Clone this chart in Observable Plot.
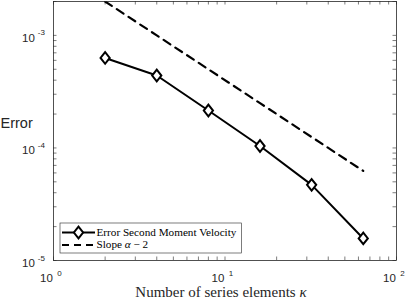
<!DOCTYPE html>
<html><head><meta charset="utf-8">
<script src="https://cdn.jsdelivr.net/npm/d3@7"></script>
<script src="https://cdn.jsdelivr.net/npm/@observablehq/plot@0.6"></script>
<style>html,body{margin:0;padding:0;background:#fff} svg{display:block}</style>
</head><body><div id="chart"></div>
<script>
// ---- data ----
const kappa = [2, 4, 8, 16, 32, 64];
const errorSecondMoment = [6.3e-4, 4.4e-4, 2.15e-4, 1.04e-4, 4.7e-5, 1.57e-5];
const slopeRef = [2.0e-3, 1.0e-3, 5.0e-4, 2.5e-4, 1.25e-4, 6.25e-5];
const xMajorTicks = [1, 10, 100];
const xTickExponents = ["0", "1", "2"];
const xMinorTicks = [2, 3, 4, 5, 6, 7, 8, 9, 20, 30, 40, 50, 60, 70, 80, 90];
const yMajorTicks = [1e-5, 1e-4, 1e-3];
const yTickExponents = ["-5", "-4", "-3"];
const yMinorTicks = [2e-5, 3e-5, 4e-5, 5e-5, 6e-5, 7e-5, 8e-5, 9e-5,
                     2e-4, 3e-4, 4e-4, 5e-4, 6e-4, 7e-4, 8e-4, 9e-4, 2e-3];
const seriesNames = ["Error Second Moment Velocity", "Slope "];
const xLabel = "Number of series elements ";
const yLabel = "Error";

// ---- layout ----
const W = 407, H = 299, mL = 53, mR = 11, mT = 1, mB = 39;
const plotW = W - mL - mR, plotH = H - mT - mB;
const tl = 3.5;
const ink = "#262626";
const sans = "'Liberation Sans', Arial, Helvetica, sans-serif";
const serif = "'Liberation Serif', 'Times New Roman', serif";

const data = kappa.map((k, i) => ({k, err: errorSecondMoment[i], slope: slopeRef[i]}));
const allX = [...xMajorTicks, ...xMinorTicks];
const allY = [...yMajorTicks, ...yMinorTicks];

const diamond = {
  draw(ctx, size) {
    const k = Math.sqrt(size / Math.PI);
    ctx.moveTo(0, -1.26 * k); ctx.lineTo(k, 0); ctx.lineTo(0, 1.26 * k); ctx.lineTo(-k, 0); ctx.closePath();
  }
};

const chart = Plot.plot({
  width: W, height: H,
  marginLeft: mL, marginRight: mR, marginTop: mT, marginBottom: mB,
  x: {type: "log", domain: [1, 100], axis: null},
  y: {type: "log", domain: [1e-5, 2e-3], axis: null},
  style: {background: "#fff", fontFamily: sans, overflow: "visible"},
  marks: [
    Plot.tickX(allX, {x: d => d, insetTop: plotH - tl, stroke: ink, strokeWidth: 0.6}),
    Plot.tickX(allX, {x: d => d, insetBottom: plotH - tl, stroke: ink, strokeWidth: 0.6}),
    Plot.tickY(allY, {y: d => d, insetRight: plotW - tl, stroke: ink, strokeWidth: 0.6}),
    Plot.tickY(allY, {y: d => d, insetLeft: plotW - tl, stroke: ink, strokeWidth: 0.6}),
    Plot.line(data, {x: "k", y: "slope", stroke: "black", strokeWidth: 2.2, strokeDasharray: "8,6", clip: true}),
    Plot.line(data, {x: "k", y: "err", stroke: "black", strokeWidth: 2}),
    Plot.dot(data, {x: "k", y: "err", symbol: diamond, r: 4.6, stroke: "black", strokeWidth: 2, fill: "white"}),
    Plot.frame({stroke: ink, strokeWidth: 0.8}),
    Plot.text(xMajorTicks, {x: d => d, text: () => "10", frameAnchor: "bottom", lineAnchor: "bottom",
      textAnchor: "end", dx: -0.7, dy: 21, fontSize: 11.5, fill: ink}),
    Plot.text(xMajorTicks, {x: d => d, text: (d, i) => xTickExponents[i], frameAnchor: "bottom", lineAnchor: "bottom",
      textAnchor: "start", dx: 3.7, dy: 15, fontSize: 8, fill: ink}),
    Plot.text(yMajorTicks, {y: d => d, text: () => "10", frameAnchor: "left", lineAnchor: "bottom",
      textAnchor: "end", dx: -18.7, dy: 6.4, fontSize: 11.5, fill: ink}),
    Plot.text(yMajorTicks, {y: d => d, text: (d, i) => yTickExponents[i], frameAnchor: "left", lineAnchor: "bottom",
      textAnchor: "start", dx: -15.7, dy: 0, fontSize: 8, fill: ink})
  ]
});

const svg = d3.select(chart);
// axis labels
svg.append("text").attr("x", 0.5).attr("y", 128.3).attr("text-anchor", "start").attr("font-family", sans).attr("font-size", 14.5)
  .attr("fill", ink).text(yLabel);
const xl = svg.append("text").attr("x", 221).attr("y", 296.5).attr("text-anchor", "middle")
  .attr("font-family", serif).attr("font-size", 15).attr("fill", ink);
xl.append("tspan").text(xLabel);
xl.append("tspan").attr("font-style", "italic").text("κ");

// legend
const lg = svg.append("g").attr("text-anchor", "start");
lg.append("rect").attr("x", 60).attr("y", 223).attr("width", 181.5).attr("height", 30)
  .attr("fill", "white").attr("stroke", ink).attr("stroke-width", 0.6);
lg.append("line").attr("x1", 62).attr("x2", 95).attr("y1", 232.5).attr("y2", 232.5)
  .attr("stroke", "black").attr("stroke-width", 2);
lg.append("path").attr("d", d3.symbol(diamond, Math.PI * 4.6 * 4.6)()).attr("transform", "translate(78.5,232.5)")
  .attr("fill", "white").attr("stroke", "black").attr("stroke-width", 2);
lg.append("line").attr("x1", 62).attr("x2", 95).attr("y1", 245).attr("y2", 245)
  .attr("stroke", "black").attr("stroke-width", 2.2).attr("stroke-dasharray", "7,5");
lg.append("text").attr("x", 96.5).attr("y", 235.8).attr("text-anchor", "start").attr("font-family", serif).attr("font-size", 11.2)
  .attr("fill", "black").text(seriesNames[0]);
const t2 = lg.append("text").attr("x", 96.5).attr("y", 248.3).attr("text-anchor", "start").attr("font-family", serif).attr("font-size", 11.2)
  .attr("fill", "black");
t2.append("tspan").text(seriesNames[1]);
t2.append("tspan").attr("font-style", "italic").text("α");
t2.append("tspan").text(" − 2");

document.getElementById("chart").appendChild(chart);
</script>
</body></html>
